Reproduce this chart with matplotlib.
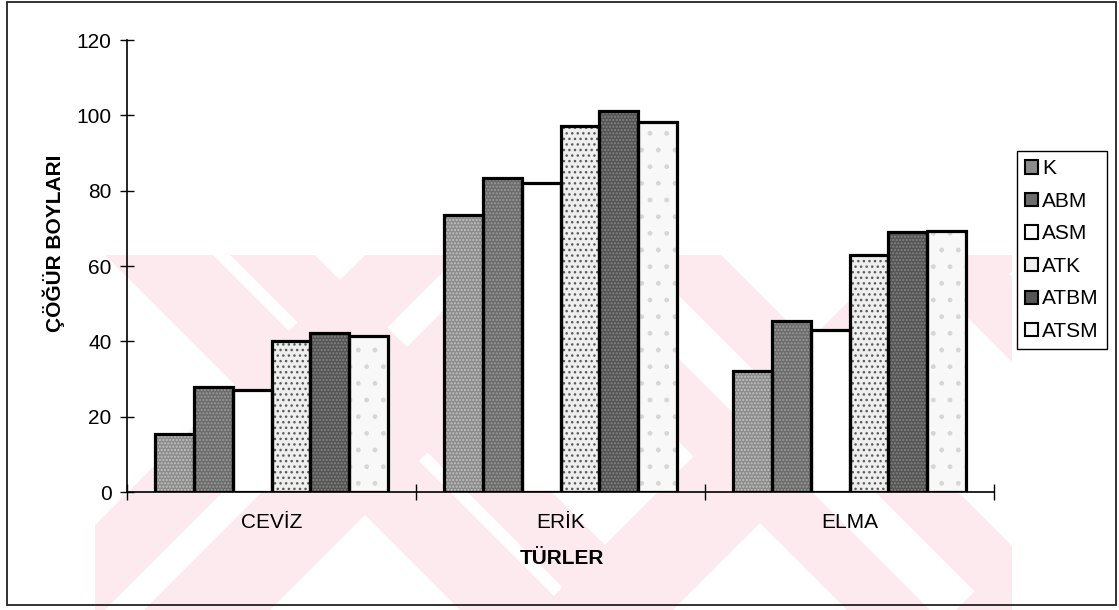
import matplotlib
matplotlib.use('Agg')
import matplotlib.pyplot as plt
from matplotlib.patches import Polygon, Patch, Rectangle

# ---- data ----
categories = ['CEVİZ', 'ERİK', 'ELMA']
series = ['K', 'ABM', 'ASM', 'ATK', 'ATBM', 'ATSM']
k_vals = [15.3, 73.5, 32.1]
abm_vals = [28.0, 83.3, 45.5]
asm_vals = [27.2, 82.1, 43.0]
atk_vals = [40.2, 97.2, 62.8]
atbm_vals = [42.2, 101.2, 69.0]
atsm_vals = [41.3, 98.3, 69.2]
y_ticks = [0, 20, 40, 60, 80, 100, 120]

all_vals = [k_vals, abm_vals, asm_vals, atk_vals, atbm_vals, atsm_vals]

# ---- styles ----
faces = ['#8c8c8c', '#6c6c6c', '#ffffff', '#eeeeee', '#555555', '#f8f8f8']
hatch_cols = ['#c4c4c4', '#9a9a9a', '#ffffff', '#5a5a5a', '#858585', '#d6d6d6']
hatches = ['.....', '.....', None, '...', '.....', '.']

plt.rcParams['font.family'] = ['Liberation Sans', 'DejaVu Sans']
FS = 15

W, H = 1119, 610
fig = plt.figure(figsize=(W / 100, H / 100), dpi=100)

# ---- background watermark + page frame (pixel coordinates) ----
wm = fig.add_axes([0, 0, 1, 1], zorder=0)
wm.set_xlim(0, W)
wm.set_ylim(H, 0)
wm.axis('off')
clip = Rectangle((95, 255), 917, 360, transform=wm.transData, facecolor='none', edgecolor='none')
wm.add_patch(clip)
pink = '#fdeaee'
y0, y1 = 255, 615
for c1, c2 in [(-150, -42), (-25, 60), (237, 320), (383, 466), (650, 735)]:
    p = Polygon([(c1 + y0, y0), (c2 + y0, y0), (c2 + y1, y1), (c1 + y1, y1)],
                closed=True, facecolor=pink, edgecolor='none')
    wm.add_patch(p)
    p.set_clip_path(clip)
for d1, d2 in [(620, 715), (754, 880), (1150, 1283), (1566, 1696)]:
    p = Polygon([(d1 - y0, y0), (d2 - y0, y0), (d2 - y1, y1), (d1 - y1, y1)],
                closed=True, facecolor=pink, edgecolor='none')
    wm.add_patch(p)
    p.set_clip_path(clip)
wm.add_patch(Rectangle((7, 2), 1109, 603, facecolor='none', edgecolor='#222222', lw=1.3))

# ---- main axes ----
ax = fig.add_axes([127 / W, 1 - 492 / H, (994 - 127) / W, (492 - 40) / H], zorder=1)
ax.patch.set_alpha(0)
ax.set_xlim(0, 3)
ax.set_ylim(0, 120)

bw = 0.1343
off = (1 - 6 * bw) / 2
for j, vals in enumerate(all_vals):
    xs = [i + off + (j + 0.5) * bw for i in range(len(categories))]
    ax.bar(xs, vals, width=bw, color=faces[j], edgecolor=hatch_cols[j], lw=0,
           hatch=hatches[j], zorder=2)
    ax.bar(xs, vals, width=bw, facecolor='none', edgecolor='black', lw=2.3, zorder=3)

for s in ['top', 'right']:
    ax.spines[s].set_visible(False)
for s in ['left', 'bottom']:
    ax.spines[s].set_linewidth(1.2)
    ax.spines[s].set_color('black')

ax.set_xticks([0, 1, 2, 3])
ax.set_xticklabels([])
ax.tick_params(axis='x', which='major', direction='inout', length=12, width=1)
ax.set_xticks([0.5, 1.5, 2.5], minor=True)
ax.set_xticklabels(categories, minor=True, fontsize=FS)
ax.tick_params(axis='x', which='minor', length=0, pad=15)

ax.set_yticks(y_ticks)
ax.set_yticklabels([str(v) for v in y_ticks], fontsize=FS)
ax.tick_params(axis='y', direction='inout', length=10, width=1, pad=6)

fig.text(54 / W, 1 - 243 / H, 'ÇÖĞÜR BOYLARI', rotation=90, ha='center', va='center',
         fontsize=FS, fontweight='bold')
fig.text(562 / W, 1 - 559 / H, 'TÜRLER', ha='center', va='center',
         fontsize=FS, fontweight='bold')

handles = [Patch(facecolor=faces[j], edgecolor='black', lw=1.5) for j in range(len(series))]
leg = fig.legend(handles, series, loc='upper left', bbox_to_anchor=(1017 / W, 1 - 151 / H),
                 frameon=True, fancybox=False, edgecolor='black', framealpha=1,
                 fontsize=FS, handlelength=0.6, handleheight=0.6, handletextpad=0.2,
                 labelspacing=0.65, borderpad=0.4, borderaxespad=0)
leg.get_frame().set_linewidth(1.0)

fig.savefig('out.png', dpi=100)
